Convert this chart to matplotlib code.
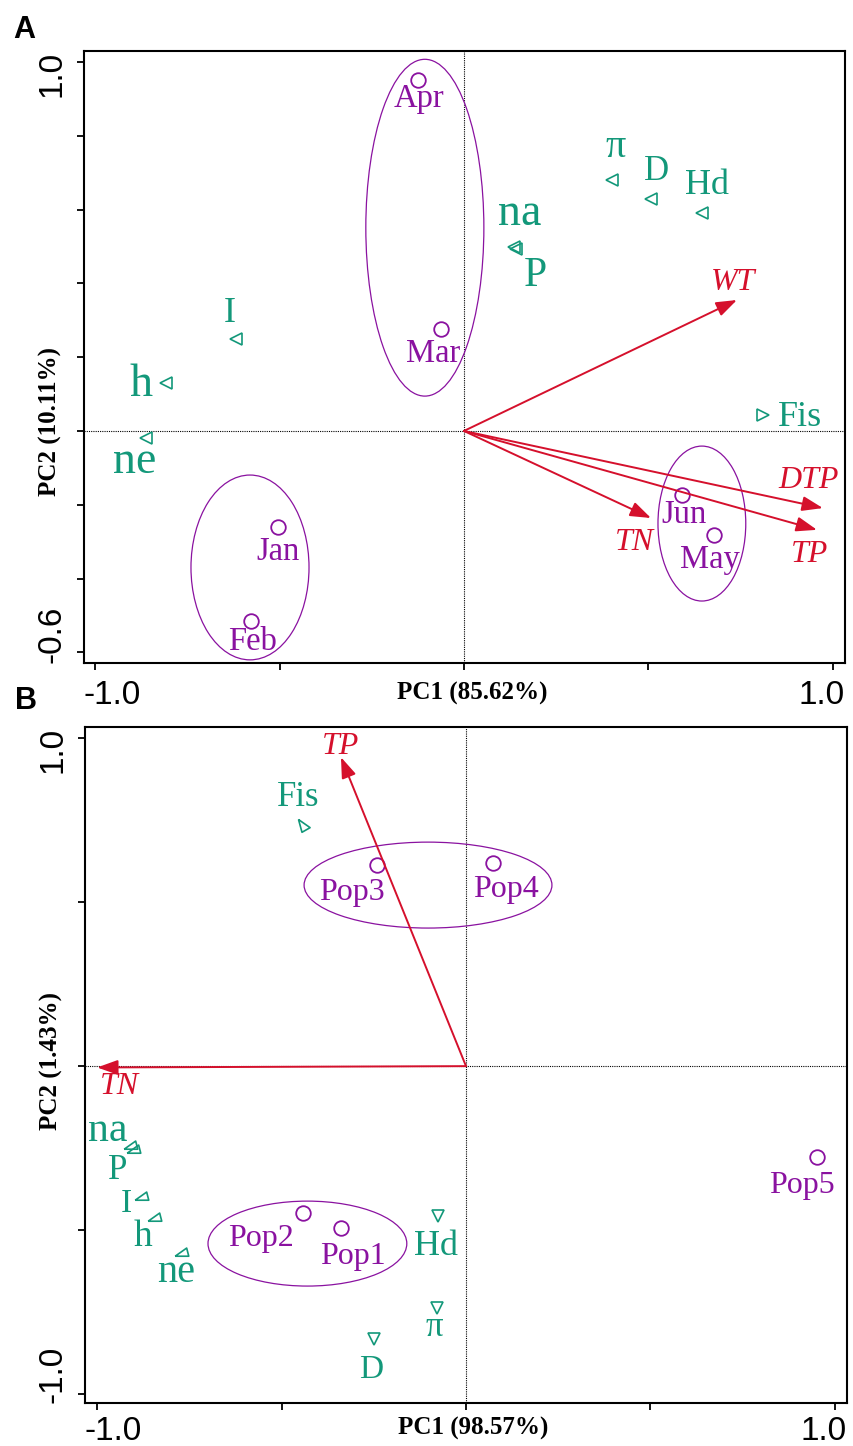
import matplotlib
matplotlib.use("Agg")
import matplotlib.pyplot as plt
from matplotlib.patches import Ellipse
from matplotlib.markers import MarkerStyle

# ---------------- DATA ----------------
# Panel A (months)
MONTHS_A = ['Jan', 'Feb', 'Mar', 'Apr', 'May', 'Jun']
MONTH_PC1_A = [-0.504, -0.577, -0.062, -0.125, 0.678, 0.591]
MONTH_PC2_A = [-0.260, -0.515, 0.276, 0.951, -0.282, -0.173]

VARS_A = ['π', 'D', 'Hd', 'na', 'P', 'I', 'h', 'ne', 'Fis']
VAR_PC1_A = [0.401, 0.507, 0.645, 0.136, 0.141, -0.618, -0.808, -0.862, 0.810]
VAR_PC2_A = [0.680, 0.630, 0.591, 0.500, 0.492, 0.249, 0.130, -0.018, 0.043]

ENV_A = ['WT', 'DTP', 'TP', 'TN']
ENV_PC1_A = [0.740, 0.973, 0.957, 0.507]
ENV_PC2_A = [0.355, -0.209, -0.268, -0.236]

# group ellipses A: centre PC1, centre PC2, width, height
ELL_CX_A = [-0.106, -0.580, 0.645]
ELL_CY_A = [0.551, -0.370, -0.251]
ELL_W_A = [0.320, 0.320, 0.238]
ELL_H_A = [0.913, 0.501, 0.420]

# Panel B (populations)
POPS_B = ['Pop1', 'Pop2', 'Pop3', 'Pop4', 'Pop5']
POP_PC1_B = [-0.339, -0.442, -0.241, 0.073, 0.951]
POP_PC2_B = [-0.494, -0.449, 0.613, 0.619, -0.277]

VARS_B = ['Fis', 'na', 'P', 'I', 'h', 'ne', 'Hd', 'π', 'D']
VAR_PC1_B = [-0.442, -0.905, -0.897, -0.875, -0.840, -0.767, -0.076, -0.079, -0.249]
VAR_PC2_B = [0.732, -0.243, -0.255, -0.400, -0.463, -0.570, -0.457, -0.738, -0.832]

ENV_B = ['TP', 'TN']
ENV_PC1_B = [-0.339, -1.000]
ENV_PC2_B = [0.942, -0.004]

ELL_CX_B = [-0.103, -0.430]
ELL_CY_B = [0.552, -0.541]
ELL_W_B = [0.672, 0.539]
ELL_H_B = [0.262, 0.259]

XLABEL_A = 'PC1 (85.62%)'
YLABEL_A = 'PC2 (10.11%)'
XLABEL_B = 'PC1 (98.57%)'
YLABEL_B = 'PC2 (1.43%)'

XTICKS = [-1.0, -0.5, 0.0, 0.5, 1.0]
YTICKS_A = [-0.6, -0.4, -0.2, 0.0, 0.2, 0.4, 0.6, 0.8, 1.0]
YTICKS_B = [-1.0, -0.5, 0.0, 0.5, 1.0]
XTICKLABELS = ['-1.0', '1.0']
YTICKLABELS_A = ['-0.6', '1.0']
YTICKLABELS_B = ['-1.0', '1.0']

# ---------------- STYLE ----------------
GREEN = '#13987a'
PURPLE = '#8a12a0'
RED = '#d5102c'
SERIF = ['Liberation Serif', 'DejaVu Serif']
SANS = ['Liberation Sans', 'DejaVu Sans']

# label offsets in pixels (dx right, dy down) relative to the point, text centre / baseline
OFF_A = {'Apr': (1, 27), 'Mar': (-8, 33), 'Jan': (0, 33), 'Feb': (1, 29), 'Jun': (2, 28), 'May': (-4, 33),
         'π': (4, -23), 'D': (6, -19), 'Hd': (5, -19), 'na': (6, -22), 'P': (19, 37), 'I': (-6, -17),
         'h': (-25, 13), 'ne': (-11, 35), 'Fis': (37, 11),
         'WT': (-4, -10), 'DTP': (-14, -20), 'TP': (-7, 32), 'TN': (-17, 32)}
SIZE_A = {'na': 33, 'ne': 33, 'h': 33, 'P': 30, 'π': 29, 'D': 25, 'Hd': 26, 'I': 26, 'Fis': 26}
OFF_B = {'TP': (0, -3), 'TN': (22, 27), 'Fis': (-5, -20), 'Pop3': (-25, 35), 'Pop4': (13, 34),
         'Pop5': (-15, 36), 'na': (-24, -5), 'P': (-18, 29), 'I': (-17, 15), 'h': (-13, 28),
         'ne': (-7, 29), 'Pop2': (-42, 33), 'Pop1': (12, 36), 'Hd': (-2, 39), 'π': (-3, 28), 'D': (-3, 39)}
SIZE_B = {'Fis': 25, 'na': 30, 'P': 25, 'I': 24, 'h': 27, 'ne': 29, 'Hd': 26, 'π': 25, 'D': 24}

MARK_A = {v: '<' for v in VARS_A}
MARK_A['Fis'] = '>'
# triangles as drawn in panel B
tri_ul = MarkerStyle([(-9.2, -3.0), (3.5, 6.0), (5.8, -3.0), (-9.2, -3.0)])
tri_dr = MarkerStyle([(-4.3, 6.0), (5.7, -1.0), (-1.3, -5.0), (-4.3, 6.0)])
MARK_B = {'Fis': tri_dr, 'na': tri_ul, 'P': tri_ul, 'I': tri_ul, 'h': tri_ul, 'ne': tri_ul,
          'Hd': 'v', 'π': 'v', 'D': 'v'}
MS_B = {'Fis': 10, 'na': 12, 'P': 12, 'I': 12, 'h': 12, 'ne': 12, 'Hd': 8, 'π': 8, 'D': 8}

W, H = 854, 1446
fig = plt.figure(figsize=(W / 100, H / 100), dpi=100)


def px_axes(l, t, r, b):
    return fig.add_axes([l / W, 1 - b / H, (r - l) / W, (b - t) / H])


def label(ax, txt, x, y, off, color, size, style='normal'):
    ax.annotate(txt, xy=(x, y), xytext=(off[0], -off[1]), textcoords='offset pixels',
                ha='center', va='baseline', color=color, fontsize=size,
                family=SERIF, style=style, zorder=6)


def frame(ax, xlim, ylim, yticks, yticklabels, xlab, ylab, xlab_base, ylab_frac, tick_base):
    ax.set_xlim(*xlim)
    ax.set_ylim(*ylim)
    ax.set_xticks(XTICKS)
    ax.set_yticks(yticks)
    ax.set_xticklabels([])
    ax.set_yticklabels([])
    ax.tick_params(direction='out', length=5, width=1.3, color='black')
    for s in ax.spines.values():
        s.set_linewidth(1.5)
    ax.axhline(0, color='black', lw=0.8, ls=(0, (1, 1)), zorder=1)
    ax.axvline(0, color='black', lw=0.8, ls=(0, (1, 1)), zorder=1)
    # tick labels aligned to box edges
    bb = ax.get_window_extent()
    hpx = bb.height
    wpx = bb.width
    ax.text(0.0, -tick_base / hpx, XTICKLABELS[0], transform=ax.transAxes, ha='left', va='baseline',
            fontsize=24, family=SANS)
    ax.text(1.0, -tick_base / hpx, XTICKLABELS[1], transform=ax.transAxes, ha='right', va='baseline',
            fontsize=24, family=SANS)
    ax.text(-16 / wpx, 0.0, yticklabels[0], transform=ax.transAxes, ha='right', va='bottom',
            rotation=90, fontsize=24, family=SANS)
    ax.text(-16 / wpx, 1.0, yticklabels[1], transform=ax.transAxes, ha='right', va='top',
            rotation=90, fontsize=24, family=SANS)
    ax.text(0.51, -xlab_base / hpx, xlab, transform=ax.transAxes, ha='center', va='baseline',
            fontsize=18, weight='bold', family=SERIF)
    ax.text(-22 / wpx, ylab_frac, ylab, transform=ax.transAxes, ha='right', va='center',
            rotation=90, fontsize=18, weight='bold', family=SERIF)


# ---------------- PANEL A ----------------
axA = px_axes(84, 51, 845, 663)
frame(axA, (-1.03, 1.033), (-0.629, 1.03), YTICKS_A, YTICKLABELS_A, XLABEL_A, YLABEL_A, 37, 0.395, 41)

for cx, cy, w, h in zip(ELL_CX_A, ELL_CY_A, ELL_W_A, ELL_H_A):
    axA.add_patch(Ellipse((cx, cy), w, h, fill=False, ec=PURPLE, lw=0.9, zorder=2))

axA.plot(MONTH_PC1_A, MONTH_PC2_A, ls='none', marker='o', ms=10.5, mfc='none', mec=PURPLE, mew=1.3, zorder=4)
for m, x, y in zip(MONTHS_A, MONTH_PC1_A, MONTH_PC2_A):
    label(axA, m, x, y, OFF_A[m], PURPLE, 23.5)

for v, x, y in zip(VARS_A, VAR_PC1_A, VAR_PC2_A):
    axA.plot([x], [y], ls='none', marker=MARK_A[v], ms=8, mfc='none', mec=GREEN, mew=1.2, zorder=4)
    label(axA, v, x, y, OFF_A[v], GREEN, SIZE_A[v])

for e, x, y in zip(ENV_A, ENV_PC1_A, ENV_PC2_A):
    axA.annotate('', xy=(x, y), xytext=(0, 0),
                 arrowprops=dict(arrowstyle='-|>,head_length=0.7,head_width=0.25', color=RED, lw=1.4,
                                 shrinkA=0, shrinkB=0, mutation_scale=18), zorder=5)
    label(axA, e, x, y, OFF_A[e], RED, 23, style='italic')

fig.text(13 / W, 1 - 38 / H, 'A', fontsize=22, weight='bold', family=SANS, ha='left', va='baseline')

# ---------------- PANEL B ----------------
axB = px_axes(85, 727, 847, 1403)
frame(axB, (-1.033, 1.033), (-1.027, 1.034), YTICKS_B, YTICKLABELS_B, XLABEL_B, YLABEL_B, 32, 0.506, 37)

for cx, cy, w, h in zip(ELL_CX_B, ELL_CY_B, ELL_W_B, ELL_H_B):
    axB.add_patch(Ellipse((cx, cy), w, h, fill=False, ec=PURPLE, lw=0.9, zorder=2))

axB.plot(POP_PC1_B, POP_PC2_B, ls='none', marker='o', ms=10.5, mfc='none', mec=PURPLE, mew=1.3, zorder=4)
for p, x, y in zip(POPS_B, POP_PC1_B, POP_PC2_B):
    label(axB, p, x, y, OFF_B[p], PURPLE, 23)

for v, x, y in zip(VARS_B, VAR_PC1_B, VAR_PC2_B):
    axB.plot([x], [y], ls='none', marker=MARK_B[v], ms=MS_B[v], mfc='none', mec=GREEN, mew=1.2, zorder=4)
    label(axB, v, x, y, OFF_B[v], GREEN, SIZE_B[v])

for e, x, y in zip(ENV_B, ENV_PC1_B, ENV_PC2_B):
    axB.annotate('', xy=(x, y), xytext=(0, 0),
                 arrowprops=dict(arrowstyle='-|>,head_length=0.7,head_width=0.25', color=RED, lw=1.4,
                                 shrinkA=0, shrinkB=0, mutation_scale=18), zorder=5)
    label(axB, e, x, y, OFF_B[e], RED, 23, style='italic')

fig.text(15 / W, 1 - 709 / H, 'B', fontsize=22, weight='bold', family=SANS, ha='left', va='baseline')

fig.savefig('out.png', dpi=100)
